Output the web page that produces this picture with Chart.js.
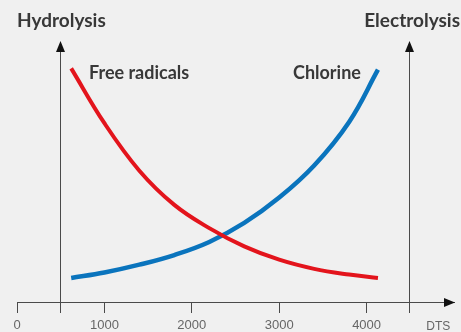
<!DOCTYPE html>
<html>
<head>
<meta charset="utf-8">
<script src="https://cdn.jsdelivr.net/npm/chart.js@4"></script>
<style>
	html, body { margin: 0; padding: 0; background: #f0f0f0; overflow: hidden; }
	#wrap { position: relative; width: 461px; height: 345px; }
</style>
</head>
<body>
<div id="wrap"><canvas id="chart"></canvas></div>
<script>
// DTS on the x axis, relative process rate on y (0..100)
const dts = [620, 1000, 1400, 1800, 2200, 2600, 3000, 3400, 3800, 4130];
const freeRadicals = [89.5, 68.5, 50.3, 37.2, 28.3, 21.3, 16.2, 12.7, 10.5, 9.2];
const chlorine = [9.2, 11.3, 14.3, 18.0, 23.0, 30.3, 40.0, 52.3, 69.0, 89];
const xTicks = [0, 1000, 2000, 3000, 4000];
// where the two vertical axes stand on the DTS scale
const hydrolysisAt = 490;
const electrolysisAt = 4480;

const axisColor = '#4a4a4a';
const textColor = '#383838';
const labelFont = 'Lato, "Open Sans", sans-serif';
const tickFont = '"Liberation Sans", Arial, sans-serif';

function toPoints(values) {
	return values.map((v, i) => ({ x: dts[i], y: v }));
}

function arrowUp(ctx, x, tipY) {
	ctx.beginPath();
	ctx.moveTo(x, tipY);
	ctx.lineTo(x - 4.5, tipY + 11);
	ctx.lineTo(x + 4.5, tipY + 11);
	ctx.closePath();
	ctx.fill();
}

const processAxes = {
	id: 'processAxes',
	afterDraw(chart) {
		const { ctx, chartArea, scales } = chart;
		const { x, y } = scales;
		ctx.save();
		ctx.strokeStyle = axisColor;
		ctx.fillStyle = '#111';
		ctx.lineWidth = 1;

		// vertical axes, crossing a bit below the DTS axis
		[hydrolysisAt, electrolysisAt].forEach((v) => {
			const px = Math.round(x.getPixelForValue(v)) + 0.5;
			ctx.beginPath();
			ctx.moveTo(px, y.getPixelForValue(100) + 6);
			ctx.lineTo(px, chartArea.bottom + 11);
			ctx.stroke();
			arrowUp(ctx, px, y.getPixelForValue(100));
		});

		// arrow head at the end of the DTS axis
		const by = chartArea.bottom + 0.5;
		ctx.beginPath();
		ctx.moveTo(chartArea.right + 1, by);
		ctx.lineTo(chartArea.right - 10, by - 4.5);
		ctx.lineTo(chartArea.right - 10, by + 4.5);
		ctx.closePath();
		ctx.fill();

		// axis and curve names
		ctx.fillStyle = textColor;
		ctx.textBaseline = 'alphabetic';
		ctx.font = `bold 19px ${labelFont}`;
		ctx.textAlign = 'left';
		ctx.fillText('Hydrolysis', 17, 27);
		ctx.textAlign = 'right';
		ctx.fillText('Electrolysis', 460, 27);

		ctx.font = `bold 18px ${labelFont}`;
		ctx.textAlign = 'left';
		ctx.fillText('Free radicals', 89, 79);
		ctx.fillText('Chlorine', 293, 79);

		ctx.font = `12px ${tickFont}`;
		ctx.fillStyle = '#666';
		ctx.textAlign = 'center';
		ctx.textBaseline = 'top';
		ctx.fillText('DTS', x.getPixelForValue(4820), chartArea.bottom + 19);
		ctx.restore();
	},
};

new Chart(document.getElementById('chart'), {
	type: 'line',
	data: {
		datasets: [
			{
				label: 'Free radicals',
				data: toPoints(freeRadicals),
				borderColor: '#e3141c',
				borderWidth: 4,
				borderCapStyle: 'butt',
				tension: 0.4,
				pointRadius: 0,
			},
			{
				label: 'Chlorine',
				data: toPoints(chlorine),
				borderColor: '#0a74bd',
				borderWidth: 4.5,
				borderCapStyle: 'butt',
				tension: 0.4,
				pointRadius: 0,
			},
		],
	},
	options: {
		responsive: true,
		maintainAspectRatio: false,
		animation: false,
		layout: { padding: { left: 17, right: 7, top: 41, bottom: 0 } },
		scales: {
			x: {
				type: 'linear',
				min: 0,
				max: 5000,
				afterBuildTicks: (scale) => {
					scale.ticks = xTicks.map((v) => ({ value: v }));
				},
				afterFit: (scale) => {
					scale.height = 43;
				},
				border: { display: true, color: axisColor, width: 1 },
				grid: {
					display: true,
					drawOnChartArea: false,
					drawTicks: true,
					tickLength: 11,
					color: axisColor,
				},
				ticks: {
					color: '#666',
					font: { family: tickFont, size: 13 },
					padding: 5,
					maxRotation: 0,
					callback: (value) => String(value),
				},
			},
			y: {
				display: false,
				min: 0,
				max: 100,
			},
		},
		plugins: {
			legend: { display: false },
			tooltip: { enabled: false },
		},
	},
	plugins: [processAxes],
});
</script>
</body>
</html>
